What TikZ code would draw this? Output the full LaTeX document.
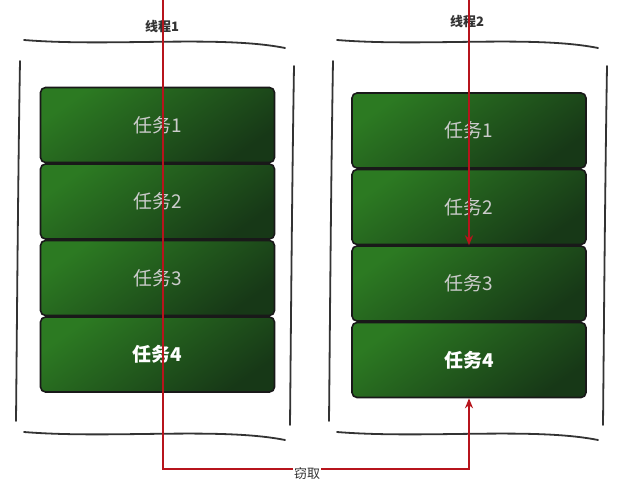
\documentclass[tikz,border=0pt]{standalone}
\usepackage{fontspec}
\newfontfamily\cjk{Noto Sans CJK SC}
\usetikzlibrary{arrows.meta}
\definecolor{taskhi}{HTML}{2C7A22}
\definecolor{tasklo}{HTML}{173817}
\definecolor{stealred}{HTML}{B7141C}

\begin{document}
\begin{tikzpicture}[x=1pt, y=-1pt,
      task/.style={draw=black!90, line width=1.6pt, rounded corners=5pt,
        minimum width=234pt, minimum height=75pt, inner sep=0pt,
        top color=taskhi, bottom color=tasklo, shading angle=35,
        font=\cjk\fontsize{19}{22}\selectfont, text=black!20},
      last/.style={font=\cjk\bfseries\fontsize{19}{22}\selectfont, text=white},
      wall/.style={line width=1.8pt, draw=black!80, line cap=round},
      steal/.style={line width=1.9pt, draw=stealred},
      tip/.style={-{Stealth[length=10pt,width=8pt]}},
      etq/.style={font=\cjk\bfseries\fontsize{13}{15}\selectfont, text=black!80, inner sep=1pt}
    ]
    \useasboundingbox[fill=white] (0,0) rectangle (636,489);
    % the two deques
    \foreach \dx in {0,313} {
      \draw[wall] (24+\dx,40) .. controls (110+\dx,47) and (220+\dx,35) .. (285+\dx,48);
      \draw[wall] (24+\dx,432) .. controls (110+\dx,439) and (220+\dx,427) .. (285+\dx,440);
      \draw[wall] (20+\dx,61) .. controls (18+\dx,180) and (17+\dx,320) .. (16+\dx,421);
      \draw[wall] (294+\dx,66) .. controls (292+\dx,190) and (291+\dx,320) .. (290+\dx,425);
    }
    \foreach \i [evaluate=\i as \yy using 125+76.5*(\i-1)] in {1,2,3} {
      \node[task] (l\i) at (157.5,\yy) {任务\i};
      \node[task] (r\i) at (469,\yy+5.5) {任务\i};
    }
    \node[task,last] (l4) at (157.5,354.5) {任务4};
    \node[task,last] (r4) at (469,360) {任务4};
    \node[etq] (th1) at (162,27) {线程1};
    \node[etq] (th2) at (467,22) {线程2};
    \coordinate (t1) at (163,0);
    \coordinate (t2) at (r2.south |- 0,0);
    \coordinate (turn) at (163,469);
    \draw[steal,tip] (t1) -- (turn) -| (r4.south);
    \draw[steal,tip] (t2) -- (r2.south);
    \node[etq, fill=white, font=\cjk\fontsize{13}{15}\selectfont] (take) at (307,474) {窃取};
  \end{tikzpicture}
\end{document}
